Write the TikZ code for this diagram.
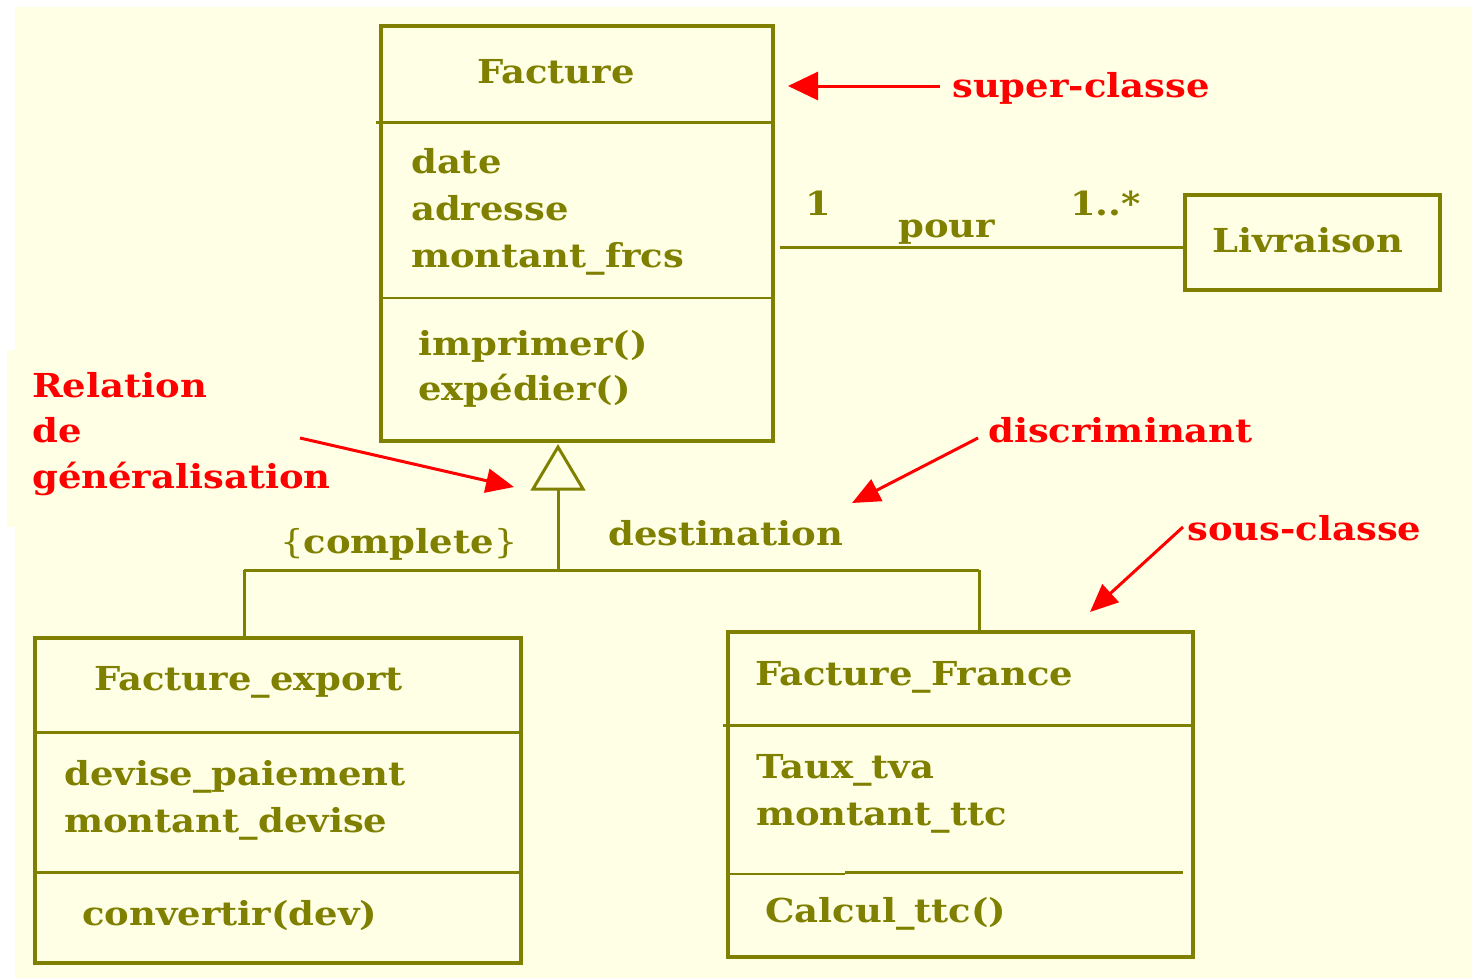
\documentclass[tikz,border=0pt]{standalone}
\usepackage{fontspec}
\setmainfont{DejaVu Serif}[FakeStretch=1.12]
\usetikzlibrary{arrows.meta}
\definecolor{olive}{HTML}{808000}
\definecolor{bgyellow}{HTML}{FFFFE6}
\definecolor{annred}{HTML}{FF0000}
\tikzset{
  classbox/.style={draw=olive, line width=3.5pt, rectangle, inner sep=0pt, anchor=north west},
  divider/.style={draw=olive, line width=3pt},
  thindiv/.style={draw=olive, line width=2pt},
  umltext/.style={text=olive, font=\bfseries\fontsize{33}{40}\selectfont, inner sep=0pt, anchor=base west},
  redtext/.style={text=annred, font=\bfseries\fontsize{33}{40}\selectfont, inner sep=0pt, anchor=base west},
  conn/.style={draw=olive, line width=3pt},
  redarrow/.style={draw=annred, line width=3pt, -{Triangle[length=28pt,width=24pt]}},
}
\begin{document}
\begin{tikzpicture}[x=1pt,y=-1pt]
\useasboundingbox (0,0) rectangle (1472,978);
\fill[bgyellow] (15,7) rectangle (1472,978);
\fill[bgyellow] (7,350) rectangle (16,527);

% Facture
\node[classbox, minimum width=392pt, minimum height=415pt] (facture) at (379,24) {};
\draw[divider] (376,122) -- (774,122);
\draw[thindiv] (379,298) -- (771,298);
\node[umltext] (factureT) at (477,83) {Facture};
\node[umltext] (fa1) at (411,173) {date};
\node[umltext] (fa2) at (411,220) {adresse};
\node[umltext] (fa3) at (411,267) {montant\_frcs};
\node[umltext] (fm1) at (418,355) {imprimer()};
\node[umltext] (fm2) at (418,400) {expédier()};

% Livraison
\node[classbox, minimum width=255pt, minimum height=95pt] (livraison) at (1183,193) {};
\node[umltext] (livT) at (1212,252) {Livraison};

% association
\coordinate (aY) at (0,247);
\draw[conn, shorten <=5pt] (facture.east |- aY) -- (livraison.west |- aY);
\node[umltext] (m1) at (805,215) {1};
\node[umltext] (pour) at (898,237) {pour};
\node[umltext] (m2) at (1070,215) {1..*};

% Facture_export
\node[classbox, minimum width=486pt, minimum height=325pt] (export) at (33,636) {};
\draw[divider] (33,732) -- (519,732);
\draw[divider] (33,872) -- (519,872);
\node[umltext] (exT) at (94,690) {Facture\_export};
\node[umltext] (ex1) at (64,785) {devise\_paiement};
\node[umltext] (ex2) at (64,832) {montant\_devise};
\node[umltext] (ex3) at (82,925) {convertir(dev)};

% Facture_France
\node[classbox, minimum width=465pt, minimum height=325pt] (france) at (726,630) {};
\draw[divider] (723,725) -- (1191,725);
\draw[thindiv] (728,874) -- (845,874);
\draw[divider] (845,872.5) -- (1183,872.5);
\node[umltext] (frT) at (755,685) {Facture\_France};
\node[umltext] (fr1) at (756,778) {Taux\_tva};
\node[umltext] (fr2) at (756,825) {montant\_ttc};
\node[umltext] (fr3) at (765,922) {Calcul\_ttc()};

% generalisation tree
\coordinate (tip) at (558,447);
\coordinate (tbase) at (558,489);
\coordinate (junc) at (558,570);
\coordinate (jl) at (244,570);
\coordinate (jr) at (979,570);
\draw[conn, fill=bgyellow, line join=miter] (tip) -- (533,489) -- (583,489) -- cycle;
\draw[conn] (tbase) -- (junc);
\draw[conn] (jl) -- (jr);
\draw[conn] (jl) -- (jl |- export.north);
\draw[conn] (jr) -- (jr |- france.north);
\node[text=olive, font=\fontsize{33}{40}\selectfont, inner sep=0pt, anchor=base west] (complete) at (280,553) {\{\textbf{complete}\}};
\node[umltext] (dest) at (608,545) {destination};

% annotations
\node[redtext] (super) at (952,97) {super-classe};
\coordinate (superArr) at (788,86);
\draw[redarrow, -{Triangle[length=30pt,width=28pt]}] (super.west |- superArr) ++(-12,0) -- (superArr);

\node[redtext] (rel1) at (32,397) {Relation};
\node[redtext] (rel2) at (32,442) {de};
\node[redtext] (rel3) at (32,488) {généralisation};
\coordinate (relS) at (300,438);
\coordinate (relT) at (514,487);
\draw[redarrow] (relS) -- (relT);

\node[redtext] (discr) at (988,442) {discriminant};
\coordinate (discS) at (978,438);
\coordinate (discT) at (852,503);
\draw[redarrow] (discS) -- (discT);

\node[redtext] (sous) at (1187,540) {sous-classe};
\coordinate (sousS) at (1183,527);
\coordinate (sousT) at (1090,612);
\draw[redarrow] (sousS) -- (sousT);
\end{tikzpicture}
\end{document}
